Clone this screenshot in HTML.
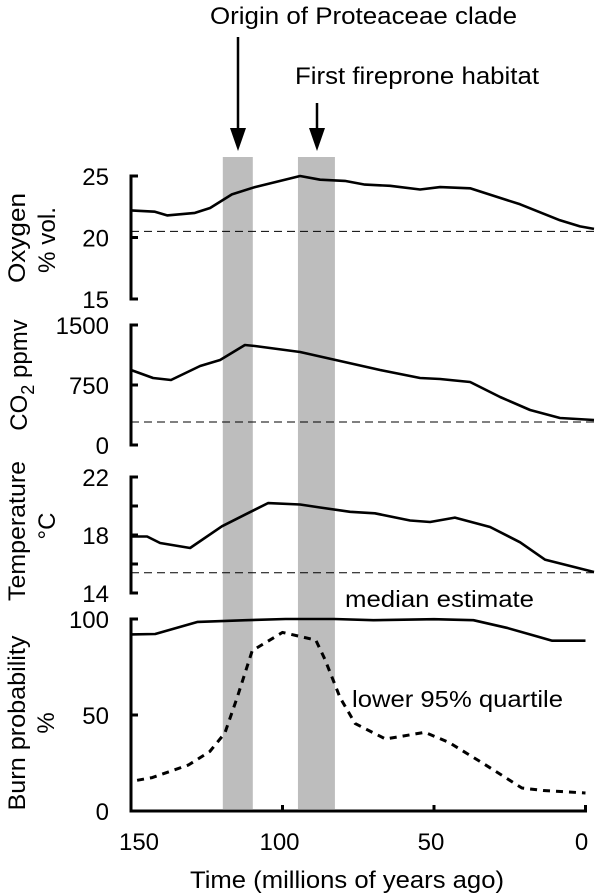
<!DOCTYPE html>
<html><head><meta charset="utf-8"><style>
html,body{margin:0;padding:0;background:#fff;}
svg{display:block;font-family:"Liberation Sans",Arial,sans-serif;}
</style></head><body>
<svg id="chart" width="600" height="895" viewBox="0 0 600 895" xmlns="http://www.w3.org/2000/svg">
<g id="bands"></g>
<g id="annot">
  <text x="210" y="24" font-size="24" textLength="307" lengthAdjust="spacingAndGlyphs">Origin of Proteaceae clade</text>
  <line x1="238" y1="37" x2="238" y2="132" stroke="#000" stroke-width="2.5"/>
  <polygon points="230,128 246,128 238,151" fill="#000"/>
  <text x="295" y="84" font-size="24" textLength="244" lengthAdjust="spacingAndGlyphs">First fireprone habitat</text>
  <line x1="317" y1="103" x2="317" y2="132" stroke="#000" stroke-width="2.5"/>
  <polygon points="309,128 325,128 317,151" fill="#000"/>
</g>
<g id="plots"></g>
<g id="labels" font-size="24">
  <text transform="translate(25,238) rotate(-90)" text-anchor="middle" textLength="90" lengthAdjust="spacingAndGlyphs">Oxygen</text>
  <text transform="translate(55,240) rotate(-90)" text-anchor="middle" textLength="66" lengthAdjust="spacingAndGlyphs">% vol.</text>
  <text transform="translate(27,375) rotate(-90)" text-anchor="middle">CO<tspan font-size="18" dy="7">2</tspan><tspan dy="-7"> ppmv</tspan></text>
  <text transform="translate(25,531) rotate(-90)" text-anchor="middle" textLength="140" lengthAdjust="spacingAndGlyphs">Temperature</text>
  <text transform="translate(55,526) rotate(-90)" text-anchor="middle">°C</text>
  <text transform="translate(25,723) rotate(-90)" text-anchor="middle" textLength="175" lengthAdjust="spacingAndGlyphs">Burn probability</text>
  <text transform="translate(54,723) rotate(-90)" text-anchor="middle">%</text>
  <text x="345" y="607" font-size="23" textLength="189" lengthAdjust="spacingAndGlyphs">median estimate</text>
  <text x="352" y="707" font-size="23" textLength="211" lengthAdjust="spacingAndGlyphs">lower 95% quartile</text>
  <text x="190" y="888" font-size="24" textLength="314" lengthAdjust="spacingAndGlyphs">Time (millions of years ago)</text>
</g>
</svg>
<script>
const xTicks=[150,100,50,0];
const bandsT=[[119.7,109.8],[94.9,82.7]];
const o2T=[150,142.1,138.1,128.9,123.9,116.7,109.1,94.2,87.6,79.4,72.8,64.5,54.6,48.0,38.1,21.6,8.4,1.8,-2.8];
const o2V=[22.2,22.1,21.8,22.0,22.4,23.5,24.1,25.0,24.7,24.6,24.3,24.2,23.9,24.1,24.0,22.7,21.4,20.9,20.7];
const o2Ref=20.5;
const o2Ticks=[15,20,25];
const co2T=[150,142.7,136.8,127.2,120.6,112.4,109.1,94.2,81.0,67.8,54.6,48.0,38.1,28.2,18.3,8.4,-2.8];
const co2V=[937,837,812,987,1062,1250,1237,1162,1050,937,837,825,787,600,437,337,312];
const co2Ref=287;
const co2Ticks=[0,750,1500];
const tempT=[150,144.7,140.4,130.5,120.0,112.4,104.8,94.2,87.6,77.7,69.5,57.9,51.3,43.1,31.5,21.6,13.4,-2.8];
const tempV=[17.9,17.9,17.45,17.1,18.6,19.4,20.2,20.1,19.9,19.6,19.5,19.0,18.9,19.2,18.55,17.5,16.3,15.45];
const tempRef=15.4;
const tempTicks=[14,16,18,20,22];
const tempLabels=[14,18,22];
const medT=[150,142,128,112,99,83,70,50,37,26,11,0];
const medV=[92,92.2,98.5,99.4,100,100,99.4,99.9,99.4,95.4,88.7,88.7];
const lowT=[148,143,131,124,119,115,110,100,89,86,81,76,66,53,45,34,21,14,0];
const lowV=[16,17.4,24,31,40.6,59,83.5,93,89,79,59,45.5,37.5,41,35.7,25,12,10.7,9.4];
const burnTicks=[0,50,100];

const NS="http://www.w3.org/2000/svg";
const X=t=>585.5-t*3.03;
const lin=(v0,y0,v1,y1)=>v=>y0+(v-v0)*(y1-y0)/(v1-v0);
const yO2=lin(15,299,25,176), yCO2=lin(0,445,1500,325), yT=lin(14,593,22,477), yB=lin(0,811,100,619);
function mk(tag,attrs,parent){const e=document.createElementNS(NS,tag);for(const k in attrs)e.setAttribute(k,attrs[k]);parent.appendChild(e);return e;}
const bandsG=document.getElementById('bands'), plots=document.getElementById('plots');
bandsT.forEach((b,i)=>{
  const r=mk('rect',{x:X(b[0]),y:157,width:X(b[1])-X(b[0]),height:652,fill:'#bdbdbd'},bandsG);
  
  
});
function series(T,V,ys,name,dash){
  const d=T.map((t,i)=>(i?'L':'M')+X(t).toFixed(1)+' '+ys(V[i]).toFixed(1)).join(' ');
  const p=mk('path',{d:d,fill:'none',stroke:'#000','stroke-width':dash?3:2.6,'stroke-dasharray':dash||'none','stroke-linejoin':'round'},plots);
  
  
}
function ref(v,ys,name){
  const l=mk('line',{x1:131,x2:597,y1:ys(v),y2:ys(v),stroke:'#000','stroke-width':1,'stroke-dasharray':'8 5'},plots);
  
  
}
function axis(ticks,labels,ys,name){
  const lo=Math.min(...ticks),hi=Math.max(...ticks);
  const a=mk('line',{x1:131,x2:131,y1:ys(hi)-1.5,y2:ys(lo)+1.5,stroke:'#000','stroke-width':3},plots);
  
  
  ticks.forEach(v=>{
    const t=mk('line',{x1:131,x2:138,y1:ys(v),y2:ys(v),stroke:'#000','stroke-width':3},plots);
    
    
  });
  labels.forEach(v=>{
    const tx=mk('text',{x:109,y:ys(v)+9,'text-anchor':'end','font-size':24},plots);
    tx.textContent=v;
    
    
  });
}
axis(o2Ticks,o2Ticks,yO2,'oxygen');
axis(co2Ticks,co2Ticks,yCO2,'co2');
axis(tempTicks,tempLabels,yT,'temperature');
axis(burnTicks,burnTicks,yB,'burn');
ref(o2Ref,yO2,'oxygen-reference-line');
ref(co2Ref,yCO2,'co2-reference-line');
ref(tempRef,yT,'temperature-reference-line');
series(o2T,o2V,yO2,'oxygen-line');
series(co2T,co2V,yCO2,'co2-line');
series(tempT,tempV,yT,'temperature-line');
series(medT,medV,yB,'burn-median-line');
series(lowT,lowV,yB,'burn-lower-quartile-line','7 6');
const xa=mk('line',{x1:129.5,x2:587,y1:811,y2:811,stroke:'#000','stroke-width':3},plots);


xTicks.forEach(t=>{
  const tk=mk('line',{x1:X(t),x2:X(t),y1:805,y2:812,stroke:'#000','stroke-width':3},plots);
  
  
  const tx=mk('text',{x:X(t)+(t===150?8:(t===0?-4:-3)),y:850,'text-anchor':'middle','font-size':24},plots);
  tx.textContent=t;
  
  
});
</script>
</body></html>
